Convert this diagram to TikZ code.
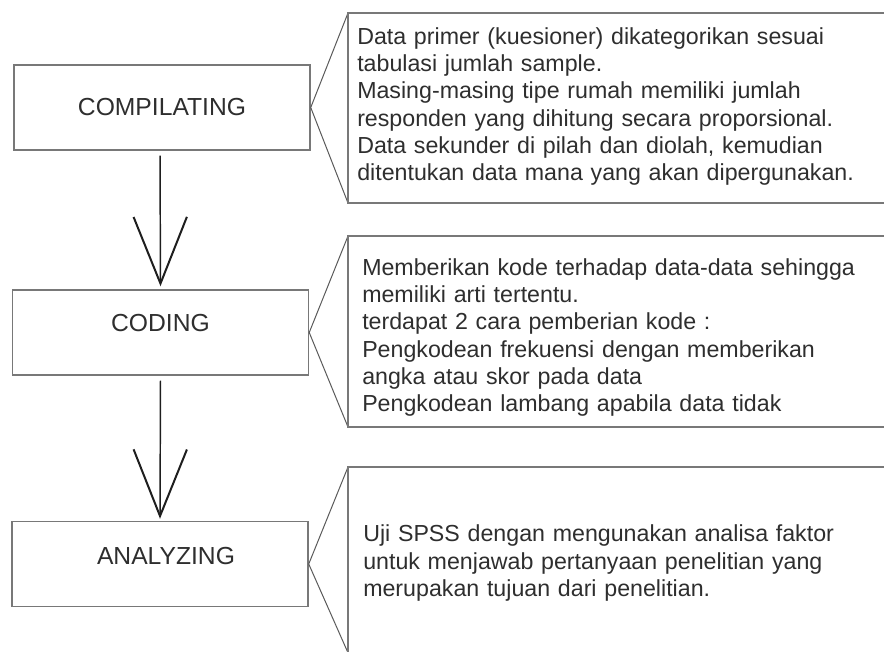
\documentclass[tikz,border=0pt]{standalone}
\usepackage{fontspec}
\setmainfont{Liberation Sans}
\usepackage{xcolor}
\usetikzlibrary{arrows.meta,positioning}
\definecolor{ink}{HTML}{2E2E2E}
\definecolor{frame}{HTML}{787878}
\definecolor{edge}{HTML}{5A5A5A}
\definecolor{shaft}{HTML}{1E1E1E}
\tikzset{
  stagebox/.style={
    rectangle, draw=frame, line width=1.1pt, text=ink,
    minimum width=222pt, minimum height=63.75pt,
    font=\fontsize{18.5}{21}\selectfont, inner sep=0pt
  },
  notetext/.style={
    text=ink, align=left, text width=400pt, inner sep=0pt,
    anchor=base west, font=\fontsize{17.4}{20.5}\selectfont
  },
  noteframe/.style={draw=frame, line width=1pt},
  noteedge/.style={draw=edge, line width=0.75pt},
  flowarrow/.style={
    draw=shaft, line width=1.1pt,
    -{Straight Barb[length=50pt, width=40pt, line width=1.5pt]}
  },
}
\begin{document}
\begin{tikzpicture}[x=0.75pt,y=-0.75pt]
\useasboundingbox (0,0) rectangle (884,651);

% Stage boxes on the left
\node[stagebox] (comp) at (162,107.5) {COMPILATING};
\node[stagebox, text depth=14pt] (cod) at (160.5,332.5) {CODING};
\node[stagebox, text depth=12pt] (anl) at (160,564) {\hspace{9pt}ANALYZING};

% Downward flow
\draw[flowarrow, shorten <=3.75pt, shorten >=2.25pt] ([xshift=-1.5pt]comp.south) -- (cod.north);
\draw[flowarrow, shorten <=3.75pt, shorten >=1.5pt] (cod.south) -- (anl.north);

% Callout frames (right side runs off the page)
\draw[noteedge] (348,13) -- (comp.east) -- (348,203);
\draw[noteframe] (884,13) -- (348,13) -- (348,203) -- (884,203);
\draw[noteedge] (348,236) -- (cod.east) -- (348,427);
\draw[noteframe] (884,236) -- (348,236) -- (348,427) -- (884,427);
\draw[noteedge] (348,467) -- (anl.east) -- (349,655);
\draw[noteframe] (884,467) -- (348,467) -- (348,660);

% Callout texts
\node[notetext] (note1) at (357,44.3) {Data primer (kuesioner) dikategorikan sesuai\\
  tabulasi jumlah sample.\\
  Masing-masing tipe rumah memiliki jumlah\\
  responden yang dihitung secara proporsional.\\
  Data sekunder di pilah dan diolah, kemudian\\
  ditentukan data mana yang akan dipergunakan.};
\node[notetext] (note2) at (362,275) {Memberikan kode terhadap data-data sehingga\\
  memiliki arti tertentu.\\
  terdapat 2 cara pemberian kode :\\
  Pengkodean frekuensi dengan memberikan\\
  angka atau skor pada data\\
  Pengkodean lambang apabila data tidak};
\node[notetext] (note3) at (363,541.7) {Uji SPSS dengan mengunakan analisa faktor\\
  untuk menjawab pertanyaan penelitian yang\\
  merupakan tujuan dari penelitian.};

\end{tikzpicture}
\end{document}
